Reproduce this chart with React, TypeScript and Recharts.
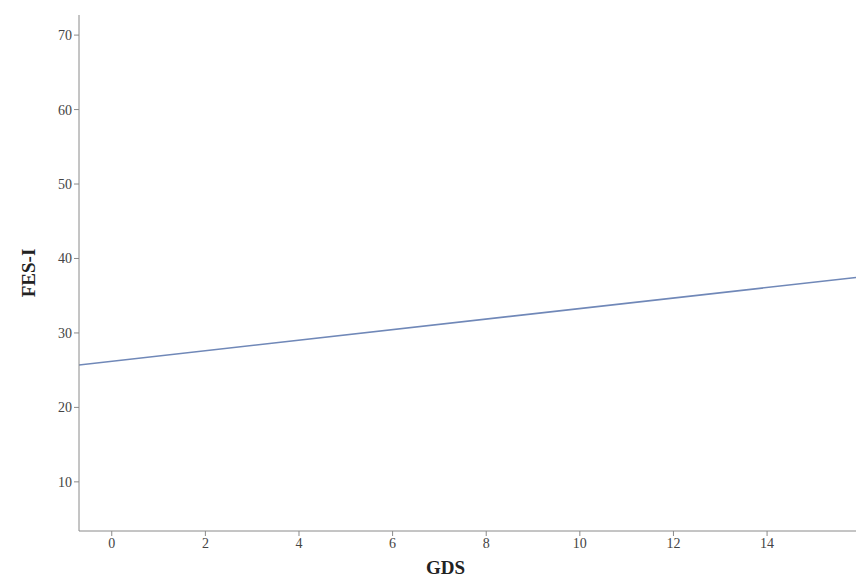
import React from 'react';
import { LineChart, Line, XAxis, YAxis, Label } from 'recharts';

const gdsValues = [-0.7, 15.9];
const fesValues = [25.7, 37.45];
const xTicks = [0, 2, 4, 6, 8, 10, 12, 14];
const yTicks = [10, 20, 30, 40, 50, 60, 70];

const data = gdsValues.map((g, i) => ({ gds: g, fes: fesValues[i] }));

const font = '"Liberation Serif", "DejaVu Serif", serif';

export default function App() {
  return (
    <div style={{ position: 'absolute', left: 0, top: 0, background: '#fff' }}>
      <LineChart width={856} height={581} data={data} margin={{ top: 15, right: 0, bottom: 0, left: 0 }}>
        <XAxis
          dataKey="gds"
          type="number"
          domain={[-0.7, 15.9]}
          ticks={xTicks}
          allowDataOverflow
          stroke="#8a8a8a"
          tickSize={5}
          height={50}
          tick={{ fill: '#444', fontSize: 14, fontFamily: font }}
        >
          <Label value="GDS" position="insideBottom" offset={7} dx={-22} style={{ fontFamily: font, fontWeight: 'bold', fontSize: 19, fill: '#222' }} />
        </XAxis>
        <YAxis
          type="number"
          domain={[3.4, 72.7]}
          ticks={yTicks}
          allowDataOverflow
          stroke="#8a8a8a"
          tickSize={5}
          width={79}
          tick={{ fill: '#444', fontSize: 14, fontFamily: font }}
        >
          <Label value="FES-I" angle={-90} position="insideLeft" offset={28} style={{ fontFamily: font, fontWeight: 'bold', fontSize: 19, fill: '#222', textAnchor: 'middle' }} />
        </YAxis>
        <Line dataKey="fes" stroke="#7088b8" strokeWidth={1.6} dot={false} isAnimationActive={false} />
      </LineChart>
    </div>
  );
}
